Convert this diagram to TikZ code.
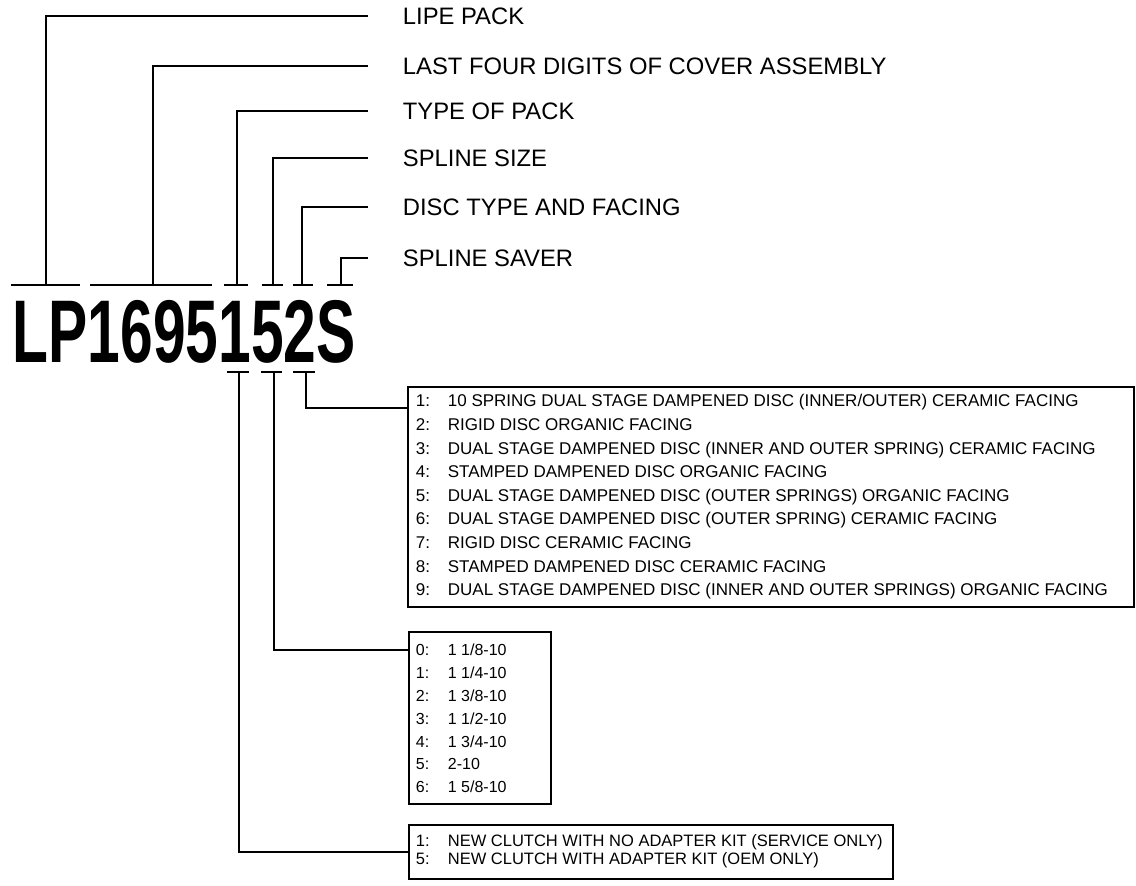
\documentclass[tikz,border=0pt]{standalone}
\usepackage{fontspec}
\setmainfont{Liberation Sans}
\begin{document}
\begin{tikzpicture}[x=1pt,y=-1pt,line width=1.8pt,
    every node/.style={inner sep=0pt,anchor=west},
    tag/.style={font=\fontsize{23.8}{24}\selectfont,text height=17pt,text depth=0pt},
    row/.style={font=\fontsize{#1}{#1}\selectfont,text height=11.8pt,text depth=0pt},
    row/.default=16,
    codebox/.style={draw,line width=2.2pt,anchor=north west}]
    \useasboundingbox (0,0) rectangle (1136,886);

    \node[anchor=base west] (code) at (12,362)
        {\scalebox{0.66}[1]{\fontsize{89}{89}\selectfont\bfseries LP1695152S}};

    % bars above and below the code
    \foreach \a/\b in {11/80,90/212,224/248,262/283,293/313,327/353}
        \draw (\a,285) -- (\b,285);
    \foreach \a/\b in {227/249,261/282,293/315}
        \draw (\a,372) -- (\b,372);

    \coordinate (uLp) at (46,285);
    \coordinate (uCv) at (153,285);
    \coordinate (uTy) at (237,285);
    \coordinate (uSp) at (273,285);
    \coordinate (uDi) at (302,285);
    \coordinate (uSv) at (341,285);
    \coordinate (lTy) at (239,372);
    \coordinate (lSp) at (274,372);
    \coordinate (lDi) at (306,372);

    \node[tag] (lipe) at (402,16) {LIPE PACK};
    \node[tag] (cover) at (402,66) {LAST FOUR DIGITS OF COVER ASSEMBLY};
    \node[tag] (type) at (402,111) {TYPE OF PACK};
    \node[tag] (spline) at (402,158) {SPLINE SIZE};
    \node[tag] (disc) at (402,207) {DISC TYPE AND FACING};
    \node[tag] (saver) at (402,258) {SPLINE SAVER};

    \draw (uLp) |- ([xshift=-34pt]lipe.west);
    \draw (uCv) |- ([xshift=-34pt]cover.west);
    \draw (uTy) |- ([xshift=-34pt]type.west);
    \draw (uSp) |- ([xshift=-34pt]spline.west);
    \draw (uDi) |- ([xshift=-34pt]disc.west);
    \draw (uSv) |- ([xshift=-34pt]saver.west);

    % code tables
    \node[codebox,minimum width=726pt,minimum height=220pt] (discbox) at (407,386) {};
    \node[codebox,minimum width=142pt,minimum height=172pt] (splinebox) at (408,631) {};
    \node[codebox,minimum width=484pt,minimum height=54pt] (typebox) at (408,824) {};

    \foreach \n/\t [count=\i from 0] in {
        1/{10 SPRING DUAL STAGE DAMPENED DISC (INNER/OUTER) CERAMIC FACING},
        2/{RIGID DISC ORGANIC FACING},
        3/{DUAL STAGE DAMPENED DISC (INNER AND OUTER SPRING) CERAMIC FACING},
        4/{STAMPED DAMPENED DISC ORGANIC FACING},
        5/{DUAL STAGE DAMPENED DISC (OUTER SPRINGS) ORGANIC FACING},
        6/{DUAL STAGE DAMPENED DISC (OUTER SPRING) CERAMIC FACING},
        7/{RIGID DISC CERAMIC FACING},
        8/{STAMPED DAMPENED DISC CERAMIC FACING},
        9/{DUAL STAGE DAMPENED DISC (INNER AND OUTER SPRINGS) ORGANIC FACING}} {
        \node[row=17] (dn\i) at (415,{401+23.6*\i}) {\n:};
        \node[row=17] (dt\i) at (447,{401+23.6*\i}) {\t};
    }

    \foreach \n/\t [count=\i from 0] in {
        0/{1 1/8-10},1/{1 1/4-10},2/{1 3/8-10},3/{1 1/2-10},
        4/{1 3/4-10},5/{2-10},6/{1 5/8-10}} {
        \node[row] (sn\i) at (415,{650+22.8*\i}) {\n:};
        \node[row] (st\i) at (447,{650+22.8*\i}) {\t};
    }

    \foreach \n/\t [count=\i from 0] in {
        1/{NEW CLUTCH WITH NO ADAPTER KIT (SERVICE ONLY)},
        5/{NEW CLUTCH WITH ADAPTER KIT (OEM ONLY)}} {
        \node[row=16.5] (tn\i) at (415,{841+17.5*\i}) {\n:};
        \node[row=16.5] (tt\i) at (447,{841+17.5*\i}) {\t};
    }

    \draw (lDi) |- ([yshift=-22pt]discbox.north west);
    \draw (lSp) |- ([yshift=-19pt]splinebox.north west);
    \draw (lTy) |- (typebox.west);
\end{tikzpicture}
\end{document}
